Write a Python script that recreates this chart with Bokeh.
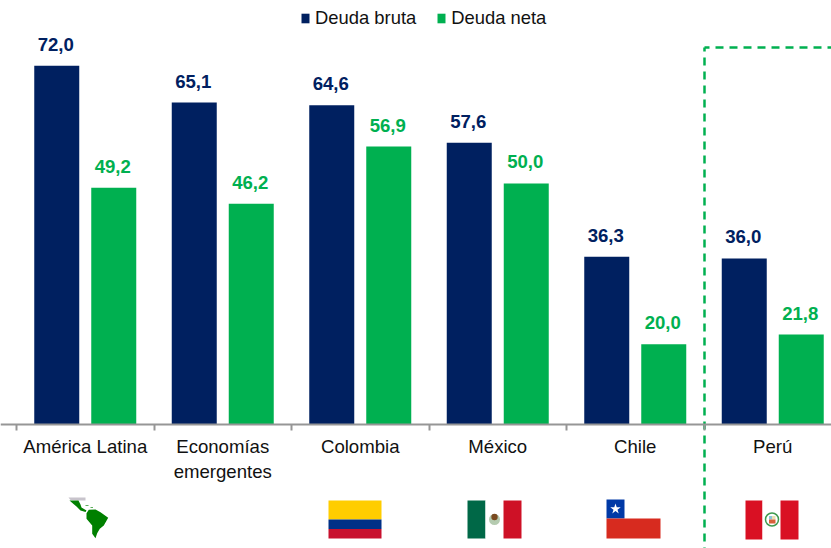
from bokeh.plotting import figure
from bokeh.models import Range1d, LinearAxis, FixedTicker, Legend, LegendItem, ColumnDataSource
from bokeh.core.properties import value
from bokeh.embed import file_html
from bokeh.resources import INLINE

categories = ["América Latina", "Economías\nemergentes", "Colombia", "México", "Chile", "Perú"]
deuda_bruta = [72.0, 65.1, 64.6, 57.6, 36.3, 36.0]
deuda_neta = [49.2, 46.2, 56.9, 50.0, 20.0, 21.8]

NAVY, GREEN, AXIS = "#002060", "#00B050", "#969696"
FONT = value("Liberation Sans")
W, H = 831, 548
PX_PER_CAT, PX_PER_UNIT = 137.5, 5.356
BASE, BASE_PY, ORIGIN_PX = 5, 424, 16

def fmt(v):
    return f"{v:.1f}".replace(".", ",")

p = figure(width=W, height=H, output_backend="svg", toolbar_location=None, min_border=0,
           x_axis_type=None, y_axis_type=None, outline_line_color=None,
           x_range=Range1d((0 - ORIGIN_PX) / PX_PER_CAT, (W - ORIGIN_PX) / PX_PER_CAT),
           y_range=Range1d(BASE + (BASE_PY - H) / PX_PER_UNIT, BASE + (BASE_PY - 0) / PX_PER_UNIT))
p.grid.visible = False
# decoration layer in page pixels
p.extra_x_ranges["px"] = Range1d(0, W)
p.extra_y_ranges["px"] = Range1d(H, 0)

centers = [i + 0.5 for i in range(len(categories))]
OFF, BW = 28.5 / PX_PER_CAT, 45 / PX_PER_CAT
src = ColumnDataSource(dict(
    xb=[c - OFF for c in centers], xn=[c + OFF for c in centers],
    b=deuda_bruta, n=deuda_neta,
    lb=[fmt(v) for v in deuda_bruta], ln=[fmt(v) for v in deuda_neta]))
r1 = p.vbar(x="xb", top="b", bottom=BASE, width=BW, fill_color=NAVY, line_color=None, source=src)
r2 = p.vbar(x="xn", top="n", bottom=BASE, width=BW, fill_color=GREEN, line_color=None, source=src)
for x, y, lab, col in (("xb", "b", "lb", NAVY), ("xn", "n", "ln", GREEN)):
    p.text(x=x, y=y, text=lab, source=src, text_color=col, text_font=FONT, text_font_style="bold",
           text_font_size="18.6px", text_align="center", text_baseline="bottom", y_offset=-15, x_offset=-1)

# axis: labels at group centres, separators as minor ticks
ax = LinearAxis(ticker=FixedTicker(ticks=centers, minor_ticks=list(range(len(categories) + 1))),
                fixed_location=BASE,
                major_label_overrides={c: t for c, t in zip(centers, categories)},
                major_tick_line_color=None, major_tick_in=0, major_tick_out=0,
                minor_tick_in=0, minor_tick_out=6, minor_tick_line_color=AXIS, minor_tick_line_width=2,
                axis_line_color=AXIS, axis_line_width=2,
                major_label_standoff=5, major_label_text_font="Liberation Sans",
                major_label_text_font_size="18.6px", major_label_text_color="#111111")
p.add_layout(ax, "below")

# legend
leg = Legend(items=[LegendItem(label="Deuda bruta", renderers=[r1]), LegendItem(label="Deuda neta", renderers=[r2])],
             orientation="horizontal", location=(300, 519), padding=0, margin=0, spacing=20,
             glyph_width=10, glyph_height=12, label_standoff=5, background_fill_alpha=0, border_line_color=None,
             label_text_font="Liberation Sans", label_text_font_size="18.4px", label_text_color="#111111",
             label_height=16)
p.add_layout(leg, "center")

deco = dict(x_range_name="px", y_range_name="px")
# dashed Perú frame
dash = dict(line_color=GREEN, line_width=2.5, line_dash="8 6", **deco)
p.line(x=[704, 831], y=[47, 47], line_dash_offset=3, **dash)
p.line(x=[704, 704], y=[47, 548], line_dash_offset=4, **dash)

def box(x0, x1, y0, y1, c):
    p.quad(left=x0, right=x1, top=y0, bottom=y1, fill_color=c, line_color=None, **deco)

# map of Latin America
p.patch(x=[68, 85, 85, 78, 70], y=[497, 497, 500, 500, 499.5], fill_color="#C8C4CC", line_color=None, **deco)
p.patch(x=[69, 78, 80, 81, 86, 85, 80, 76, 73], y=[500, 500, 504, 507, 510, 511.5, 510, 506, 503.5],
        fill_color="#008000", line_color=None, **deco)
p.patch(x=[86, 88.3, 95, 100, 107.7, 103.3, 99.3, 96.7, 95, 91.7, 91.7, 86],
        y=[512.7, 509.3, 509, 511.7, 517.3, 525, 528.3, 532.7, 537.7, 533.3, 525, 518.3],
        fill_color="#008000", line_color=None, **deco)
box(85, 88, 504.5, 505.5, "#5FAF5F"); box(90, 92.5, 506.5, 507.5, "#5FAF5F")
# Colombia
box(328, 381, 500, 519, "#FFCD00"); box(328, 381, 519, 528.5, "#003087"); box(328, 381, 528.5, 538, "#C8102E")
# México
box(467, 485, 500, 538, "#006847"); box(485, 503, 500, 538, "#FFFFFF"); box(503, 521, 500, 538, "#CE1126")
p.circle(x=[494], y=[519], radius=5.5, radius_units="screen", fill_color="#B5CBB0", line_color=None, **deco)
p.circle(x=[494], y=[516.5], radius=3.2, radius_units="screen", fill_color="#7A4A20", line_color=None, **deco)
# Chile
box(606, 660, 499, 518, "#FFFFFF"); box(606, 624, 499, 518, "#0039A6"); box(606, 660, 518, 538, "#D72B1F")
p.scatter(x=[615], y=[508.5], marker="star", size=11, fill_color="#FFFFFF", line_color=None, **deco)
# Perú
box(745, 762, 500, 539, "#D91023"); box(762, 780, 500, 539, "#FFFFFF"); box(780, 798, 500, 539, "#D91023")
p.circle(x=[771.5], y=[519], radius=6.5, radius_units="screen", fill_color="#FFFFFF", line_color="#3E9A4E", line_width=1.5, **deco)
box(768.5, 771.5, 515.5, 519, "#8CC3D8"); box(771.5, 775, 515.5, 519, "#E8E0B0"); box(768.5, 775, 519, 523, "#D9603A")

open("out.html", "w").write(file_html(p, INLINE))
